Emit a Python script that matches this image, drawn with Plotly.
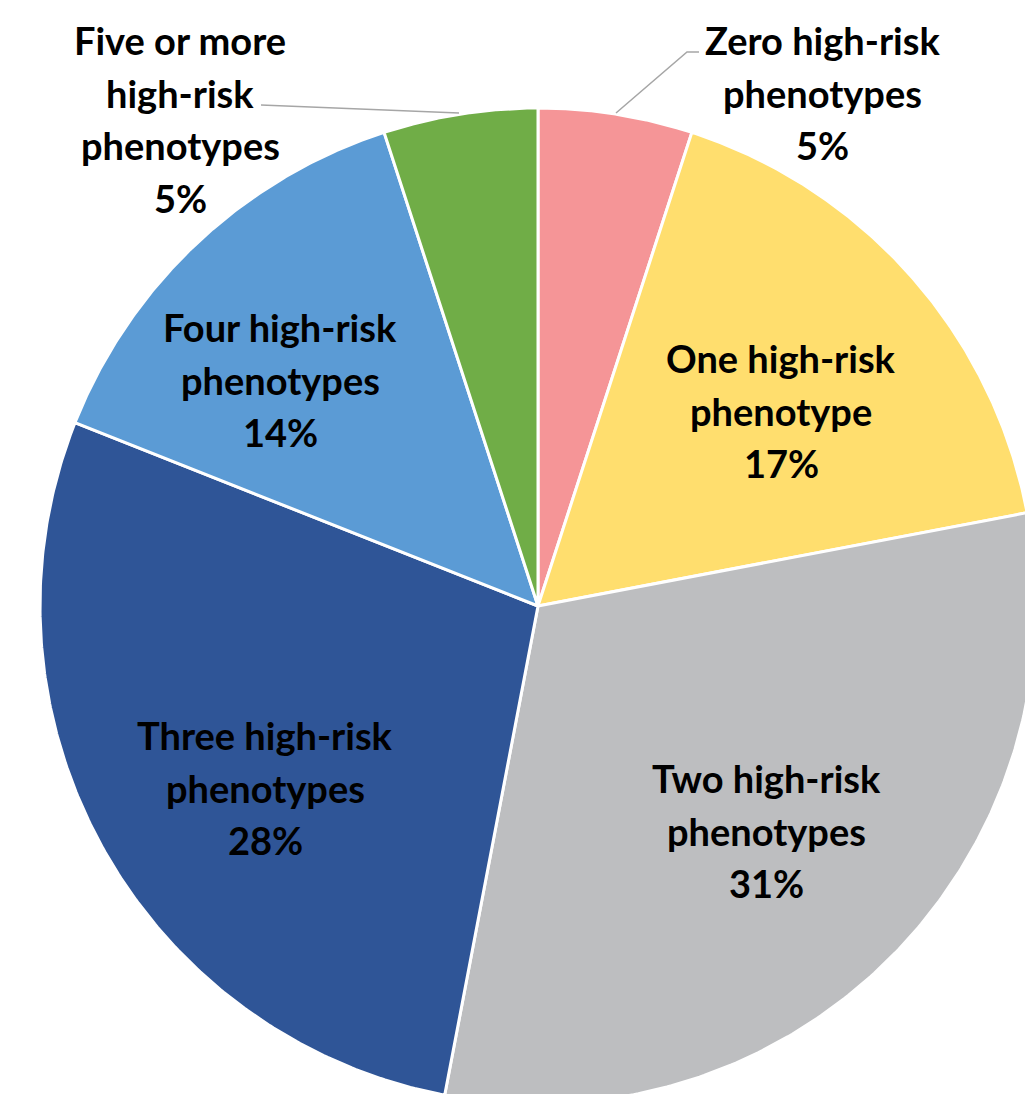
import numpy as np
import plotly.graph_objects as go

# Share of patients by number of high-risk phenotypes (percent)
categories = [
    "Zero high-risk phenotypes",
    "One high-risk phenotype",
    "Two high-risk phenotypes",
    "Three high-risk phenotypes",
    "Four high-risk phenotypes",
    "Five or more high-risk phenotypes",
]
shares = [5, 17, 31, 28, 14, 5]
colors = ["#F59597", "#FFDE6E", "#BDBEC0", "#2F5597", "#5B9BD5", "#70AD47"]

# Label text, split into lines
label_lines = [
    ["Zero high-risk", "phenotypes"],
    ["One high-risk", "phenotype"],
    ["Two high-risk", "phenotypes"],
    ["Three high-risk", "phenotypes"],
    ["Four high-risk", "phenotypes"],
    ["Five or more", "high-risk", "phenotypes"],
]

W, H = 1025, 1094
CX, CY, R = 538, 606, 498
LINE_GAP = 52.5
FONT = dict(family="Lato, 'Open Sans', sans-serif", size=38, color="#000000", weight="bold")

# label anchor: centre x, y of first line
label_pos = [
    (822, 40),
    (781, 358),
    (766, 778),
    (265, 735),
    (280, 327),
    (180, 40),
]

fig = go.Figure()

total = float(sum(shares))
start = 0.0
for name, val, col in zip(categories, shares, colors):
    a0 = start / total * 2 * np.pi
    a1 = (start + val) / total * 2 * np.pi
    t = np.linspace(a0, a1, 200)
    xs = np.concatenate([[CX], CX + R * np.sin(t), [CX]])
    ys = np.concatenate([[CY], CY - R * np.cos(t), [CY]])
    fig.add_trace(go.Scatter(
        x=xs, y=ys, mode="lines", fill="toself", fillcolor=col,
        line=dict(color="white", width=3), name=name, hoverinfo="skip",
        showlegend=False,
    ))
    start += val

# leader lines for the two small outside labels
leader_color = "#A6A6A6"
fig.add_trace(go.Scatter(x=[616, 687, 699], y=[113, 52, 52], mode="lines",
                         line=dict(color=leader_color, width=1.5),
                         hoverinfo="skip", showlegend=False))
fig.add_trace(go.Scatter(x=[261, 459], y=[105, 113], mode="lines",
                         line=dict(color=leader_color, width=1.5),
                         hoverinfo="skip", showlegend=False))

for lines, val, (lx, ly) in zip(label_lines, shares, label_pos):
    for i, txt in enumerate(lines + [f"{val}%"]):
        fig.add_annotation(x=lx, y=ly + i * LINE_GAP, text=txt, showarrow=False,
                           xanchor="center", yanchor="middle", font=FONT)

fig.update_xaxes(range=[0, W], visible=False, fixedrange=True)
fig.update_yaxes(range=[H, 0], visible=False, fixedrange=True)
fig.update_layout(
    width=W, height=H, margin=dict(l=0, r=0, t=0, b=0),
    paper_bgcolor="white", plot_bgcolor="white", showlegend=False,
)

fig.write_html("out.html")
